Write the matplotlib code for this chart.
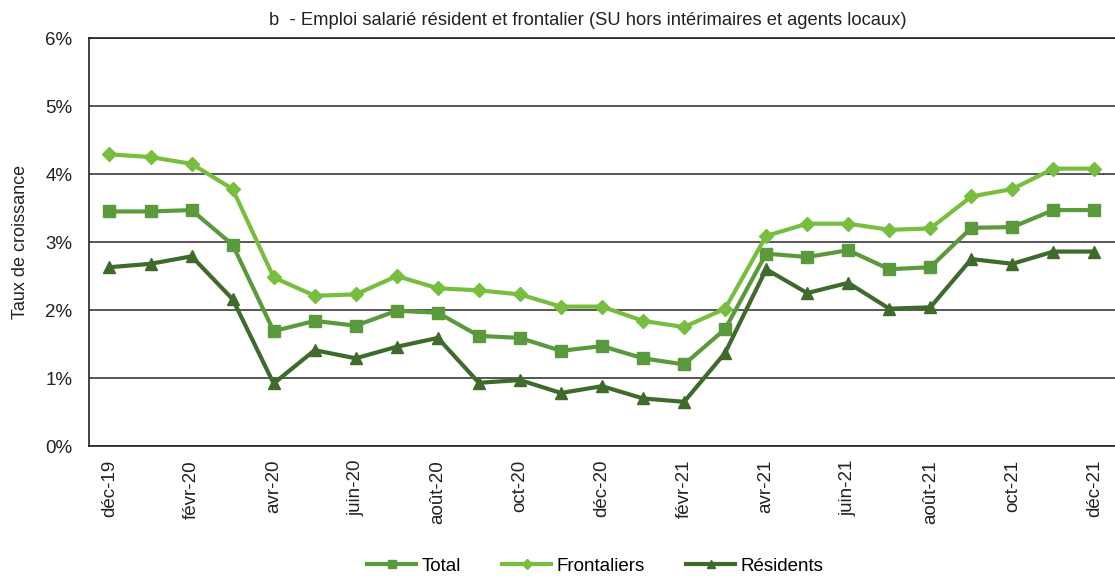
import numpy as np
import matplotlib.pyplot as plt
from matplotlib.ticker import FuncFormatter

plt.rcParams['font.family'] = ['Liberation Sans', 'DejaVu Sans']

# Mois (déc-19 à déc-21)
mois = ['déc-19', 'janv-20', 'févr-20', 'mars-20', 'avr-20', 'mai-20', 'juin-20',
        'juil-20', 'août-20', 'sept-20', 'oct-20', 'nov-20', 'déc-20', 'janv-21',
        'févr-21', 'mars-21', 'avr-21', 'mai-21', 'juin-21', 'juil-21', 'août-21',
        'sept-21', 'oct-21', 'nov-21', 'déc-21']

# Taux de croissance (%)
total = [3.45, 3.45, 3.47, 2.96, 1.69, 1.84, 1.77, 1.99, 1.96, 1.62, 1.59, 1.40, 1.47,
         1.29, 1.20, 1.72, 2.83, 2.78, 2.88, 2.60, 2.63, 3.21, 3.22, 3.47, 3.47]
frontaliers = [4.29, 4.25, 4.15, 3.78, 2.48, 2.21, 2.23, 2.50, 2.32, 2.29, 2.23, 2.05, 2.05,
               1.84, 1.75, 2.02, 3.09, 3.27, 3.27, 3.18, 3.20, 3.67, 3.78, 4.08, 4.08]
residents = [2.63, 2.68, 2.79, 2.16, 0.92, 1.41, 1.29, 1.46, 1.59, 0.93, 0.97, 0.78, 0.88,
             0.70, 0.65, 1.37, 2.60, 2.25, 2.40, 2.02, 2.04, 2.75, 2.68, 2.86, 2.86]

fig = plt.figure(figsize=(11.15, 5.77), dpi=100)
ax = fig.add_axes([0.0798, 0.227, 0.9202, 0.707])

x = np.arange(len(mois))
ax.plot(x, total, color='#5b9a3c', lw=3, marker='s', ms=9, label='Total')
ax.plot(x, frontaliers, color='#77bd3e', lw=3, marker='D', ms=7.5, label='Frontaliers')
ax.plot(x, residents, color='#3e6a2b', lw=3, marker='^', ms=9, label='Résidents')

ax.set_xlim(-0.5, len(mois) - 0.5)
ax.set_ylim(0, 6)
ax.set_yticks(range(0, 7))
ax.yaxis.set_major_formatter(FuncFormatter(lambda v, p: f'{v:.0f}%'))
ax.set_xticks(x[::2])
ax.set_xticklabels(mois[::2], rotation=90)
ax.tick_params(axis='both', length=0, labelsize=13.5, colors='#222222')
ax.tick_params(axis='x', pad=10)
ax.tick_params(axis='y', pad=12)
ax.grid(axis='y', color='#3a3a3a', lw=1.2)
ax.set_axisbelow(True)
ax.spines['right'].set_visible(False)
for s in ['left', 'top', 'bottom']:
    ax.spines[s].set_color('#222222')
    ax.spines[s].set_linewidth(1.2)

ax.set_ylabel('Taux de croissance', fontsize=13, labelpad=12, color='#222222')
fig.text(0.527, 0.965, 'b  - Emploi salarié résident et frontalier (SU hors intérimaires et agents locaux)',
         fontsize=13.2, ha='center', va='center', color='#222222')

fig.legend(loc='lower center', bbox_to_anchor=(0.534, -0.025), ncol=3, frameon=False,
           fontsize=13.5, handlelength=2.6, handletextpad=0.3, columnspacing=2.2,
           markerscale=0.7)

fig.savefig('out.png', dpi=100)
